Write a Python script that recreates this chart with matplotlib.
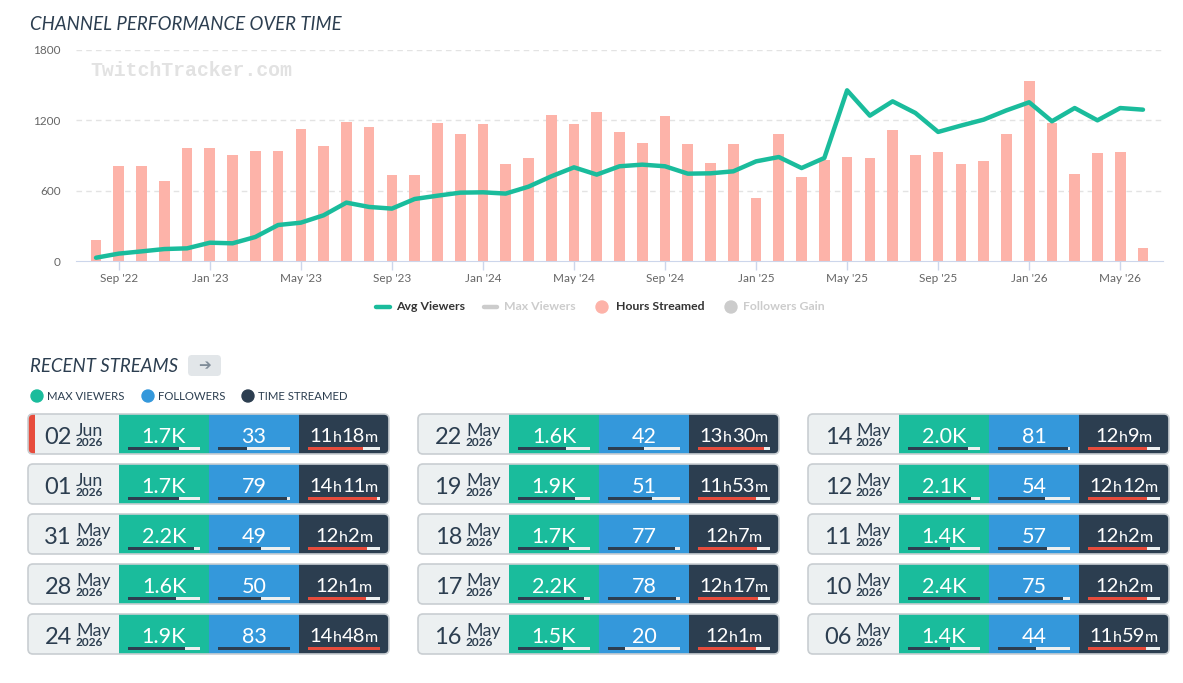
import matplotlib
matplotlib.use("Agg")
import matplotlib.pyplot as plt
import numpy as np
from matplotlib.patches import FancyBboxPatch, Rectangle, Circle
from matplotlib.lines import Line2D

plt.rcParams['font.family'] = ['Lato', 'DejaVu Sans']

# monthly data, Aug 2022 .. Jun 2026
months = ['2022-08', '2022-09', '2022-10', '2022-11', '2022-12',
          '2023-01', '2023-02', '2023-03', '2023-04', '2023-05', '2023-06',
          '2023-07', '2023-08', '2023-09', '2023-10', '2023-11', '2023-12',
          '2024-01', '2024-02', '2024-03', '2024-04', '2024-05', '2024-06',
          '2024-07', '2024-08', '2024-09', '2024-10', '2024-11', '2024-12',
          '2025-01', '2025-02', '2025-03', '2025-04', '2025-05', '2025-06',
          '2025-07', '2025-08', '2025-09', '2025-10', '2025-11', '2025-12',
          '2026-01', '2026-02', '2026-03', '2026-04', '2026-05', '2026-06']
hours_streamed = [182, 813, 813, 685, 967, 967, 907, 941, 941, 1129, 984,
                  1189, 1146, 737, 737, 1180, 1086, 1172, 830, 882, 1249, 1172,
                  1274, 1103, 1010, 1240, 1001, 839, 1001, 540, 1086, 720, 865,
                  890, 882, 1121, 907, 933, 830, 856, 1086, 1539, 1180, 745,
                  924, 933, 114]
avg_viewers = [28, 63, 82, 102, 108, 156, 151, 205, 307, 327, 390, 498, 461,
               447, 529, 557, 583, 586, 575, 634, 722, 799, 737, 808, 822, 808,
               745, 748, 765, 850, 887, 793, 879, 1456, 1240, 1362, 1263, 1101,
               1155, 1206, 1285, 1354, 1192, 1305, 1200, 1305, 1291]
tick_labels = ["Sep '22", "Jan '23", "May '23", "Sep '23", "Jan '24", "May '24",
               "Sep '24", "Jan '25", "May '25", "Sep '25", "Jan '26", "May '26"]
tick_months = ['2022-09', '2023-01', '2023-05', '2023-09', '2024-01', '2024-05',
               '2024-09', '2025-01', '2025-05', '2025-09', '2026-01', '2026-05']

# recent streams (column by column)
stream_day = ['02', '01', '31', '28', '24', '22', '19', '18', '17', '16',
              '14', '12', '11', '10', '06']
stream_month = ['Jun', 'Jun', 'May', 'May', 'May', 'May', 'May', 'May', 'May',
                'May', 'May', 'May', 'May', 'May', 'May']
stream_year = ['2026'] * 15
max_viewers_k = [1.7, 1.7, 2.2, 1.6, 1.9, 1.6, 1.9, 1.7, 2.2, 1.5,
                 2.0, 2.1, 1.4, 2.4, 1.4]
followers = [33, 79, 49, 50, 83, 42, 51, 77, 78, 20, 81, 54, 57, 75, 44]
time_h = [11, 14, 12, 12, 14, 13, 11, 12, 12, 12, 12, 12, 12, 12, 11]
time_m = [18, 11, 2, 1, 48, 30, 53, 7, 17, 1, 9, 12, 2, 2, 59]

TEAL = '#1abc9c'
BLUE = '#3498db'
DARK = '#2c3e50'
RED = '#e74c3c'
LIGHT = '#ecf0f1'
SALMON = '#fdb3a9'

W, H = 1183, 683
fig = plt.figure(figsize=(W / 100, H / 100), dpi=100)

# ---- main chart ----
ax = fig.add_axes([76 / W, 1 - 261 / H, (1163 - 76) / W, 211 / H])
x = np.arange(len(months))
ax.bar(x, hours_streamed, width=0.47, color=SALMON, zorder=2)
ax.plot(x, avg_viewers, color=TEAL, lw=3.2, solid_joinstyle='round',
        solid_capstyle='round', zorder=3)
ax.set_xlim(-0.88, len(months) - 1 + 0.88)
ax.set_ylim(0, 1800)
ax.set_yticks([0, 600, 1200, 1800])
ax.set_xticks([months.index(m) for m in tick_months])
ax.set_xticklabels(tick_labels)
for v in [600, 1200, 1800]:
    ax.axhline(v, color='#e3e3e3', lw=1, ls=(0, (4, 3)), zorder=1)
for s in ['top', 'right', 'left']:
    ax.spines[s].set_visible(False)
ax.spines['bottom'].set_color('#ccd6eb')
ax.tick_params(axis='y', length=0, pad=11, labelsize=8.5, labelcolor='#666666')
ax.tick_params(axis='x', length=6.5, width=1, color='#ccd6eb', pad=2,
               labelsize=8.5, labelcolor='#666666')
ax.set_facecolor('none')

# ---- overlay in pixel coordinates ----
ov = fig.add_axes([0, 0, 1, 1], zorder=5)
ov.set_xlim(0, W)
ov.set_ylim(H, 0)
ov.axis('off')
ov.patch.set_alpha(0)
renderer = fig.canvas.get_renderer()

ov.text(30, 24, 'CHANNEL PERFORMANCE OVER TIME', fontsize=13.4, style='italic',
        color=DARK, va='center', ha='left')
ov.text(90, 71, 'TwitchTracker.com', family='Liberation Mono', weight='bold',
        fontsize=14.3, color='#e2e2e2', va='center', ha='left')

# chart legend
ov.add_line(Line2D([376, 390], [307, 307], color=TEAL, lw=3.2, solid_capstyle='round'))
ov.text(396, 307, 'Avg Viewers', fontsize=8.8, weight='bold', color='#333333', va='center')
ov.add_line(Line2D([484, 497], [307, 307], color='#cccccc', lw=3.2, solid_capstyle='round'))
ov.text(504, 307, 'Max Viewers', fontsize=8.8, weight='bold', color='#cccccc', va='center')
ov.add_patch(Circle((602, 307), 6, color=SALMON))
ov.text(616, 307, 'Hours Streamed', fontsize=8.8, weight='bold', color='#333333', va='center')
ov.add_patch(Circle((731, 307), 6, color='#cccccc'))
ov.text(743, 307, 'Followers Gain', fontsize=8.8, weight='bold', color='#cccccc', va='center')

# recent streams header
ov.text(30, 367, 'RECENT STREAMS', fontsize=13.4, style='italic', color=DARK,
        va='center', ha='left')
ov.add_patch(FancyBboxPatch((188, 355), 33, 21, boxstyle='round,pad=0,rounding_size=4',
                            fc='#e2e6e9', ec='none'))
ov.text(204.5, 366, '\u2794', family='DejaVu Sans', fontsize=11, color='#7f8c98',
        ha='center', va='center', weight='bold')

for cx, col, lab in [(37, TEAL, 'MAX VIEWERS'), (148, BLUE, 'FOLLOWERS'),
                     (248, DARK, 'TIME STREAMED')]:
    ov.add_patch(Circle((cx, 396), 6, color=col))
    ov.text(cx + 10, 396, lab, fontsize=8.2, color=DARK, va='center', ha='left')

# stream cards
vmax = max(max_viewers_k)
fmax = max(followers)
tmins = [h * 60 + m for h, m in zip(time_h, time_m)]
tmax = max(tmins)

def progress(x0, top, frac, fg):
    ov.add_patch(Rectangle((x0, top + 33), 72, 3.2, fc=LIGHT, ec='none', zorder=4))
    ov.add_patch(Rectangle((x0, top + 33), 72 * frac, 3.2, fc=fg, ec='none', zorder=5))

def time_text(cx, base, parts):
    items = []
    total = 0
    for s, size in parts:
        t = ov.text(0, base, s, fontsize=size, color='white', va='baseline',
                    ha='left', zorder=6)
        w = t.get_window_extent(renderer).width
        items.append((t, w))
        total += w
    xx = cx - total / 2
    for t, w in items:
        t.set_x(xx)
        xx += w

col_left = [28, 418, 808]
for i in range(len(stream_day)):
    c, r = divmod(i, 5)
    L = col_left[c]
    top = 414 + 50 * r
    h = 40
    ov.add_patch(FancyBboxPatch((L, top), 361, h, boxstyle='round,pad=0,rounding_size=5',
                                fc=DARK, ec='none', zorder=2))
    ov.add_patch(FancyBboxPatch((L, top), 110, h, boxstyle='round,pad=0,rounding_size=5',
                                fc=LIGHT, ec='none', zorder=2))
    if i == 0:
        ov.add_patch(FancyBboxPatch((L, top), 16, h, boxstyle='round,pad=0,rounding_size=5',
                                    fc=RED, ec='none', zorder=2.5))
        ov.add_patch(Rectangle((L + 7, top), 20, h, fc=LIGHT, ec='none', zorder=2.6))
    ov.add_patch(Rectangle((L + 91, top), 90, h, fc=TEAL, ec='none', zorder=3))
    ov.add_patch(Rectangle((L + 181, top), 90, h, fc=BLUE, ec='none', zorder=3))
    ov.add_patch(FancyBboxPatch((L, top), 361, h, boxstyle='round,pad=0,rounding_size=5',
                                fc='none', ec='#c9ced2', lw=1.2, zorder=3.5))

    ov.text(L + 44, top + 30, stream_day[i], fontsize=17, color=DARK,
            ha='right', va='baseline', zorder=6)
    ov.text(L + 48, top + 22, stream_month[i], fontsize=12.8, color=DARK,
            ha='left', va='baseline', zorder=6)
    ov.text(L + 47.5, top + 32.5, stream_year[i], fontsize=8.6, color=DARK,
            ha='left', va='baseline', zorder=6, weight='bold')

    ov.text(L + 136, top + 29, '%.1fK' % max_viewers_k[i], fontsize=15.5,
            color='white', ha='center', va='baseline', zorder=6)
    ov.text(L + 226, top + 29, str(followers[i]), fontsize=15.5,
            color='white', ha='center', va='baseline', zorder=6)
    time_text(L + 316, top + 28, [(str(time_h[i]), 14.5), ('h', 11.5),
                                  (str(time_m[i]), 14.5), ('m', 11.5)])

    progress(L + 100, top, max_viewers_k[i] / vmax, DARK)
    progress(L + 190, top, followers[i] / fmax, DARK)
    progress(L + 280, top, tmins[i] / tmax, RED)

fig.savefig('out.png', dpi=100)
